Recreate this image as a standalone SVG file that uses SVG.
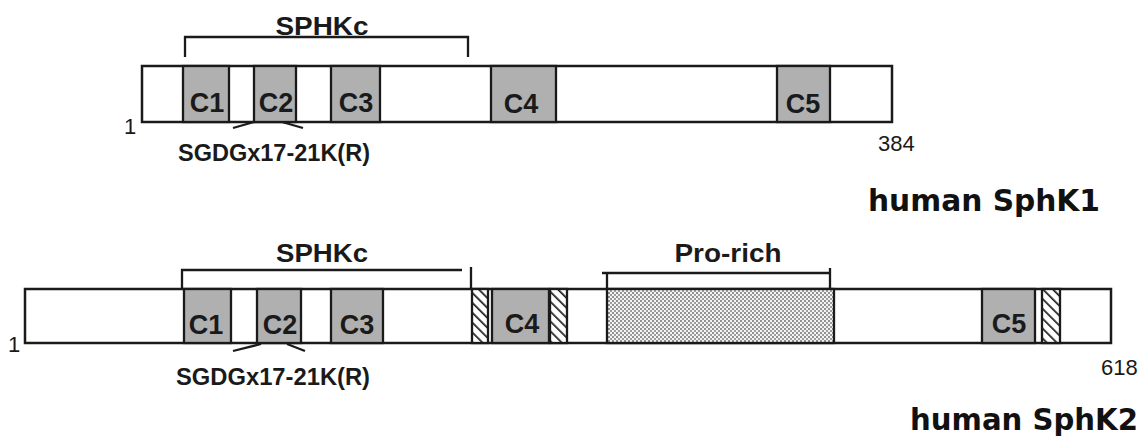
<svg xmlns="http://www.w3.org/2000/svg" width="1146" height="442" viewBox="0 0 1146 442">
  <defs>
    <pattern id="hatch" width="7" height="7" patternUnits="userSpaceOnUse" patternTransform="rotate(-45)">
      <rect width="7" height="7" fill="#ffffff"/>
      <line x1="0" y1="0" x2="0" y2="7" stroke="#222" stroke-width="3.5"/>
    </pattern>
    <pattern id="dots" width="4" height="4" patternUnits="userSpaceOnUse">
      <rect width="4" height="4" fill="#f4f4f4"/>
      <circle cx="1" cy="1" r="1" fill="#707070"/>
      <circle cx="3" cy="3" r="1" fill="#808080"/>
    </pattern>
  </defs>
  <style>
    .bar { fill: #ffffff; stroke: #1a1a1a; stroke-width: 2.5; }
    .dom { fill: #b0b0b0; stroke: #1a1a1a; stroke-width: 2.3; }
    .hat { fill: url(#hatch); stroke: #1a1a1a; stroke-width: 2.3; }
    .pro { fill: url(#dots); stroke: #1a1a1a; stroke-width: 2.3; }
    .lbl { font-family: "Liberation Sans", Arial, sans-serif; font-weight: bold; fill: #1a1a1a; }
    .dl { font-size: 27px; text-anchor: middle; }
    .num { font-family: "Liberation Sans", Arial, sans-serif; font-size: 22px; fill: #1a1a1a; }
    .name { font-family: "Comic Sans MS", "DejaVu Sans", sans-serif; font-weight: bold; font-size: 30px; fill: #111; }
    .br { fill: none; stroke: #1a1a1a; stroke-width: 2.3; }
  </style>
  <rect width="1146" height="442" fill="#ffffff"/>

  <!-- human SphK1 -->
  <g id="sphk1">
    <rect class="bar" x="142" y="66" width="750" height="56"/>
    <g id="sphk1-c1"><rect class="dom" x="183" y="66" width="46" height="56"/><text class="lbl dl" x="207" y="112">C1</text></g>
    <g id="sphk1-c2"><rect class="dom" x="254" y="66" width="42" height="56"/><text class="lbl dl" x="276" y="112">C2</text></g>
    <g id="sphk1-c3"><rect class="dom" x="331" y="66" width="49" height="56"/><text class="lbl dl" x="356" y="112">C3</text></g>
    <g id="sphk1-c4"><rect class="dom" x="491" y="66" width="65" height="56"/><text class="lbl dl" x="521" y="113">C4</text></g>
    <g id="sphk1-c5"><rect class="dom" x="777" y="66" width="53" height="56"/><text class="lbl dl" x="803" y="113">C5</text></g>
    <text class="num" x="124" y="134">1</text>
    <text class="num" x="878" y="151">384</text>
    <text class="lbl" x="322" y="35" font-size="25" text-anchor="middle" textLength="93" lengthAdjust="spacingAndGlyphs">SPHKc</text>
    <text class="lbl" x="178" y="161" font-size="23" textLength="192" lengthAdjust="spacingAndGlyphs">SGDGx17-21K(R)</text>
    <text class="name" x="868" y="211" textLength="232" lengthAdjust="spacingAndGlyphs">human SphK1</text>
  </g>

  <!-- human SphK2 -->
  <g id="sphk2">
    <rect class="bar" x="25" y="289" width="1086" height="54"/>
    <g id="sphk2-c1"><rect class="dom" x="184" y="289" width="47" height="54"/><text class="lbl dl" x="206" y="334">C1</text></g>
    <g id="sphk2-c2"><rect class="dom" x="257" y="289" width="44" height="54"/><text class="lbl dl" x="280" y="334">C2</text></g>
    <g id="sphk2-c3"><rect class="dom" x="331" y="289" width="52" height="54"/><text class="lbl dl" x="357" y="334">C3</text></g>
    <rect id="sphk2-h1" class="hat" x="472" y="289" width="16" height="54"/>
    <g id="sphk2-c4"><rect class="dom" x="492" y="289" width="57" height="54"/><text class="lbl dl" x="522" y="333">C4</text></g>
    <rect id="sphk2-h2" class="hat" x="550" y="289" width="17" height="54"/>
    <rect id="sphk2-pro" class="pro" x="607" y="289" width="227" height="54"/>
    <g id="sphk2-c5"><rect class="dom" x="982" y="289" width="53" height="54"/><text class="lbl dl" x="1009" y="333">C5</text></g>
    <rect id="sphk2-h3" class="hat" x="1042" y="289" width="18" height="54"/>
    <text class="num" x="8" y="352">1</text>
    <text class="num" x="1101" y="375">618</text>
    <text class="lbl" x="322" y="262" font-size="25" text-anchor="middle" textLength="92" lengthAdjust="spacingAndGlyphs">SPHKc</text>
    <text class="lbl" x="728" y="262" font-size="26" text-anchor="middle" textLength="107" lengthAdjust="spacingAndGlyphs">Pro-rich</text>
    <text class="lbl" x="176" y="385" font-size="23" textLength="194" lengthAdjust="spacingAndGlyphs">SGDGx17-21K(R)</text>
    <text class="name" x="910" y="430" textLength="228" lengthAdjust="spacingAndGlyphs">human SphK2</text>
  </g>

  <!-- brackets and pointer lines -->
  <g id="connectors">
    <path class="br" d="M185,57 V37 H468 V57"/>
    <path class="br" d="M233,128 L254,122 M282,122 L303,128"/>
    <path class="br" d="M182,289 V270 H462 M471,267 V289"/>
    <path class="br" d="M602,273 H830 M607,273 V289 M830,268 V289"/>
    <path class="br" d="M233,351 L261,344 M287,344 L305,351"/>
  </g>
</svg>
